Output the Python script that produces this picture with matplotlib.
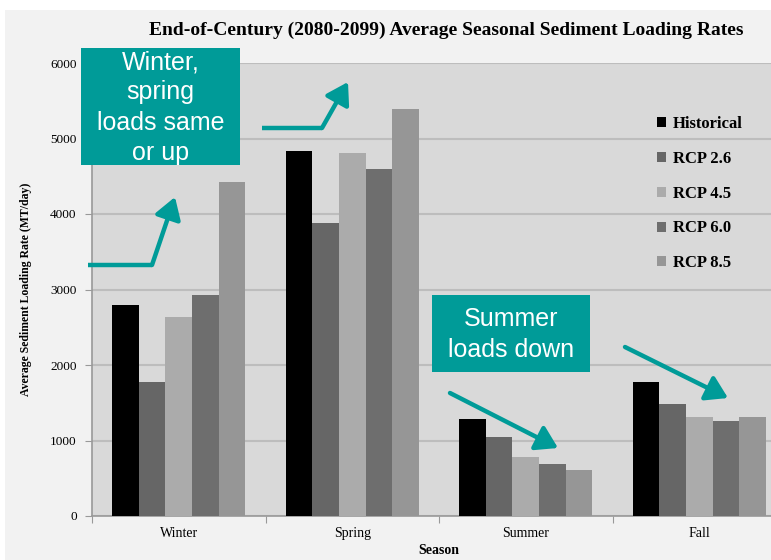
import matplotlib
matplotlib.use("Agg")
import matplotlib.pyplot as plt
from matplotlib.patches import Rectangle
import numpy as np

# ── Dados ──────────────────────────────────────────────────────────────────────
estacoes = ["Winter", "Spring", "Summer", "Fall"]
cenarios = ["Historical", "RCP 2.6", "RCP 4.5", "RCP 6.0", "RCP 8.5"]
historical = [2800, 4830, 1280, 1780]
rcp26 = [1780, 3880, 1040, 1480]
rcp45 = [2630, 4810, 780, 1310]
rcp60 = [2930, 4600, 690, 1260]
rcp85 = [4420, 5390, 610, 1310]
valores = [historical, rcp26, rcp45, rcp60, rcp85]
cores = ["#000000", "#666666", "#ababab", "#6e6e6e", "#969696"]

TEAL = "#009b98"
SERIF = ["Liberation Serif", "DejaVu Serif"]
SANS = ["Liberation Sans", "DejaVu Sans"]
W, H = 771, 560


def px(x, y):
    """pixel (origem no topo) -> fração da figura"""
    return x / W, 1 - y / H


fig = plt.figure(figsize=(W / 100, H / 100), dpi=100, facecolor="white")
fig.add_artist(Rectangle(px(5, 560), 1, 1 - 10 / H, transform=fig.transFigure,
                         facecolor="#f2f2f2", edgecolor="none", zorder=-10))

ax = fig.add_axes([92 / W, 44 / H, (786 - 92) / W, (516 - 63) / H])
ax.set_facecolor("#d9d9d9")

x = np.arange(len(estacoes))
larg = 0.153
for i, (nome, vals, cor) in enumerate(zip(cenarios, valores, cores)):
    ax.bar(x + (i - 2) * larg, vals, width=larg, color=cor, label=nome, zorder=3)

ax.set_xlim(-0.5, 3.5)
ax.set_ylim(0, 6000)
ax.set_yticks(range(0, 6001, 1000))
ax.yaxis.grid(True, color="#bdbdbd", linewidth=1.5, zorder=0)
ax.set_xticks(np.arange(-0.5, 4.0, 1.0))
ax.set_xticklabels([])
ax.set_xticks(x, minor=True)
ax.set_xticklabels(estacoes, minor=True, family=SERIF, fontsize=10)
ax.tick_params(axis="x", which="minor", length=0, pad=8)
ax.tick_params(axis="x", which="major", length=5, color="#999999")
ax.tick_params(axis="y", length=5, color="#999999", labelsize=9.5, pad=6)
for lab in ax.get_yticklabels():
    lab.set_family(SERIF)
for lado in ["top", "right"]:
    ax.spines[lado].set_visible(False)
for lado in ["left", "bottom"]:
    ax.spines[lado].set_color("#999999")
    ax.spines[lado].set_linewidth(1.2)

ax.set_xlabel("Season", family=SERIF, fontweight="bold", fontsize=10, labelpad=3)
ax.set_ylabel("Average Sediment Loading Rate (MT/day)", family=SERIF,
              fontweight="bold", fontsize=8.5, labelpad=13)

fig.text(*px(446, 30), "End-of-Century (2080-2099) Average Seasonal Sediment Loading Rates",
         ha="center", va="center", family=SERIF, fontweight="bold", fontsize=14)

ax.legend(loc="upper left", bbox_to_anchor=px(642, 101), bbox_transform=fig.transFigure,
          frameon=False, prop={"family": SERIF, "weight": "bold", "size": 12},
          handlelength=0.55, handleheight=0.55, handletextpad=0.4, labelspacing=1.13)

# ── Caixas de anotação ──────────────────────────────────────────────────────────
for (x0, y0, x1, y1), texto in [((81, 48, 240, 165), "Winter,\nspring\nloads same\nor up"),
                                ((432, 295, 590, 372), "Summer\nloads down")]:
    fig.add_artist(Rectangle(px(x0, y1), (x1 - x0) / W, (y1 - y0) / H,
                             transform=fig.transFigure, facecolor=TEAL,
                             edgecolor="none", zorder=5))
    fig.text(*px((x0 + x1) / 2, (y0 + y1) / 2 + 1), texto, ha="center", va="center",
             color="white", family=SANS, fontsize=18, linespacing=1.33, zorder=6)

# ── Setas ───────────────────────────────────────────────────────────────────────
setas = [[(88, 265), (152, 265), (175, 197)],
         [(262, 128), (322, 128), (348, 82)],
         [(450, 393), (558, 448)],
         [(625, 347), (728, 398)]]
for pts in setas:
    for (xa, ya), (xb, yb) in zip(pts[:-2], pts[1:-1]):
        fig.add_artist(plt.Line2D([xa / W, xb / W], [1 - ya / H, 1 - yb / H],
                                  transform=fig.transFigure, color=TEAL, lw=3.2,
                                  solid_capstyle="butt", zorder=6))
    (xa, ya), (xb, yb) = pts[-2], pts[-1]
    fig.add_artist(matplotlib.patches.FancyArrowPatch(
        px(xa, ya), px(xb, yb), transform=fig.transFigure,
        arrowstyle="-|>,head_length=0.8,head_width=0.5", mutation_scale=16,
        color=TEAL, lw=3.2, shrinkA=0, shrinkB=0, zorder=6))

plt.savefig("out.png", dpi=100)
plt.close()
